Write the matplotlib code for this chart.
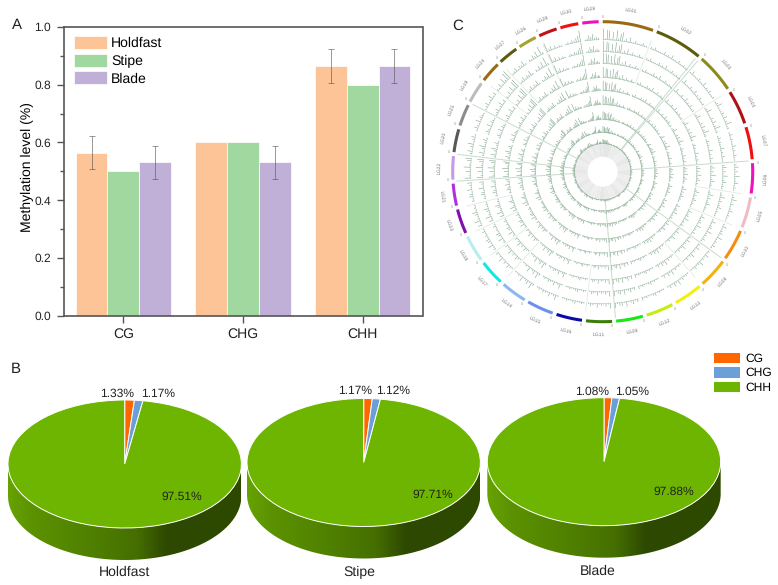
import matplotlib
matplotlib.use('Agg')
import matplotlib.pyplot as plt
from matplotlib.colors import LinearSegmentedColormap
from matplotlib.patches import PathPatch
from matplotlib.path import Path
import numpy as np

W, H = 778, 585

plt.rcParams['font.family'] = ['Liberation Sans', 'DejaVu Sans']
plt.rcParams['font.size'] = 9.8
plt.rcParams['text.hinting'] = 'none'
plt.rcParams['text.hinting_factor'] = 1

# panel A
contexts = ['CG', 'CHG', 'CHH']
tissues = ['Holdfast', 'Stipe', 'Blade']
holdfast = [0.565, 0.600, 0.865]
stipe = [0.500, 0.600, 0.798]
blade = [0.531, 0.531, 0.865]
holdfast_err = [0.058, 0, 0.058]
stipe_err = [0, 0, 0]
blade_err = [0.058, 0.058, 0.058]
bar_colors = ['#fdc597', '#a0d8a0', '#c0b0d8']

# panel B
pie_names = ['Holdfast', 'Stipe', 'Blade']
pie_holdfast = [1.33, 1.17, 97.51]
pie_stipe = [1.17, 1.12, 97.71]
pie_blade = [1.08, 1.05, 97.88]
pie_colors = ['#ff6600', '#6a9fd8', '#6db500']

# panel C, clockwise from the top
lg_names = ['LG01', 'LG02', 'LG03', 'LG04', 'LG07', 'LG06', 'LG05', 'LG10', 'LG08', 'LG13',
            'LG12', 'LG09', 'LG11', 'LG16', 'LG15', 'LG14', 'LG17', 'LG18', 'LG23', 'LG21',
            'LG22', 'LG20', 'LG25', 'LG19', 'LG24', 'LG27', 'LG26', 'LG28', 'LG30', 'LG29']
lg_sizes = [19.6, 18.6, 15.2, 13.2, 12.5, 11.6, 11.8, 12.0, 11.5, 11.0,
            10.6, 10.4, 10.0, 10.0, 10.3, 10.0, 9.7, 10.3, 9.5, 8.5,
            9.0, 8.9, 8.4, 8.2, 8.0, 7.7, 7.1, 7.1, 7.0, 6.3]
lg_colors = ['#9a6a10', '#5c5c0c', '#8c8c1c', '#b01018', '#f01010', '#f010c0', '#eebcc4', '#f58c14',
             '#f2b40c', '#f2f010', '#c4ee10', '#18e818', '#3c7c0c', '#0a0aa8', '#6c90ec', '#8cb8ee',
             '#10e8e8', '#b8ecf0', '#8010b0', '#b030e0', '#c39be8', '#585858', '#8c8c8c', '#bcbcbc',
             '#9a6a10', '#5c5c0c', '#a4a42c', '#c01018', '#f01010', '#f010c0']
lg_greys = ['#e6e6e6', '#ececec', '#efefef', '#e9e9e9', '#eeeeee', '#e8e8e8', '#eeeeee', '#eaeaea',
            '#efefef', '#e8e8e8', '#eeeeee', '#ebebeb', '#e7e7e7', '#ececec', '#efefef', '#e9e9e9',
            '#ededed', '#e8e8e8', '#eeeeee', '#ebebeb', '#e7e7e7', '#ebebeb', '#eeeeee', '#e8e8e8',
            '#ededed', '#e9e9e9', '#eeeeee', '#e8e8e8', '#ececec', '#e7e7e7']
lg_spikes = [
    [11, 1, 10, 9, 1, 8, 1, 10, 2, 7, 9, 1, 3, 1, 5, 1, 1, 3, 1, 1, 1, 3, 1, 1],
    [2, 1, 3, 1, 1, 1, 1, 3, 1, 2, 1, 4, 1, 1, 1, 3, 1, 1, 2, 1, 1],
    [1, 4, 1, 1, 1, 3, 1, 1, 4, 1, 2, 1, 3, 1, 1, 2],
    [1, 2, 5, 1, 1, 1, 3, 1, 4, 1, 2, 6, 1, 2],
    [1, 3, 1, 2, 1, 1, 4, 1, 2, 1, 3, 1, 1],
    [2, 4, 1, 3, 1, 5, 1, 2, 4, 1, 2, 1],
    [1, 2, 5, 1, 3, 1, 2, 4, 1, 2, 1, 1],
    [1, 4, 1, 2, 3, 1, 5, 1, 2, 1, 3, 1],
    [2, 1, 4, 1, 2, 1, 5, 2, 1, 3, 1, 1],
    [1, 2, 1, 3, 1, 5, 2, 4, 1, 3, 1],
    [1, 1, 2, 1, 3, 2, 1, 1, 2, 1, 3],
    [3, 1, 4, 2, 1, 5, 1, 4, 3, 1, 5],
    [5, 1, 3, 1, 2, 1, 4, 1, 2, 3, 1],
    [1, 2, 1, 1, 3, 2, 1, 1, 2, 1, 1],
    [1, 5, 2, 1, 4, 1, 2, 3, 1, 2, 1],
    [2, 6, 1, 4, 2, 1, 5, 1, 2, 1, 1],
    [1, 2, 4, 1, 3, 1, 5, 2, 1, 3],
    [2, 1, 5, 1, 3, 4, 1, 2, 1, 3, 1],
    [4, 1, 6, 2, 1, 3, 5, 1, 2, 1],
    [2, 1, 4, 3, 1, 5, 1, 2, 4],
    [6, 2, 1, 5, 1, 7, 2, 1, 4, 6],
    [2, 5, 1, 3, 6, 1, 2, 4, 1],
    [1, 4, 2, 1, 5, 1, 3, 2, 1],
    [1, 2, 4, 1, 2, 5, 1, 3],
    [2, 1, 4, 1, 6, 2, 8, 9],
    [1, 2, 4, 1, 3, 2, 5, 1],
    [2, 1, 4, 2, 6, 1, 9, 2],
    [9, 2, 4, 1, 3, 1, 2, 1],
    [1, 2, 1, 3, 2, 4, 6, 11],
    [1, 2, 5, 3, 6, 2, 3, 2],
]
track_base = [28, 39, 52, 67, 81, 94, 108, 120, 132]
track_gain = [0.4, 0.6, 0.75, 0.85, 0.9, 0.95, 1.0, 1.0, 1.0]
long_links = [40.6, 39.3, 85.8, 126.0, 175.0, 266.3, 276.8, 297.4]
short_links = [20.3, 57.4, 99.0, 112.4, 138.8, 187.0, 222.2, 233.3, 244.9, 255.8, 307.4, 316.8, 334.8]


def px_rect(left, top, width, height):
    return [left / W, 1 - (top + height) / H, width / W, height / H]


fig = plt.figure(figsize=(W / 100, H / 100), dpi=100)

# A: bars
ax = fig.add_axes(px_rect(63.5, 27, 359, 288.7))
x = np.arange(len(contexts))
bw = 0.265
series = [holdfast, stipe, blade]
errors = [holdfast_err, stipe_err, blade_err]
for i, (vals, errs) in enumerate(zip(series, errors)):
    pos = x + (i - 1) * bw
    ax.bar(pos, vals, bw, color=bar_colors[i], edgecolor='white', linewidth=0.5, label=tissues[i])
    for p, v, e in zip(pos, vals, errs):
        if e > 0:
            ax.errorbar(p, v, yerr=e, color='#555555', elinewidth=0.6, capsize=2.2,
                        capthick=0.6, alpha=0.7)
ax.set_xlim(-0.5, 2.5)
ax.set_ylim(0, 1)
ax.set_xticks(x)
ax.set_xticklabels(contexts)
ax.set_yticks(np.arange(0, 1.01, 0.2))
ax.set_yticks(np.arange(0.1, 1, 0.2), minor=True)
ax.set_ylabel('Methylation level (%)', labelpad=0.5, y=0.515)
ax.tick_params(axis='x', which='major', length=5, width=1, color='#555555', labelcolor='#222222', pad=3.5)
ax.tick_params(axis='y', which='major', length=5, width=1, color='#555555', labelcolor='#222222',
               pad=4, labelsize=8.4)
ax.tick_params(axis='y', which='minor', length=3, width=1, color='#555555')
for s in ax.spines.values():
    s.set_color('#555555')
    s.set_linewidth(1.2)
ax.legend(loc='upper left', bbox_to_anchor=(10.5 / 359, 1 - 9 / 288.7), frameon=False,
          borderaxespad=0, borderpad=0, handlelength=2.39, handleheight=1.1,
          labelspacing=0.26, handletextpad=0.33, fontsize=9.8)

# B: pies with a shaded side wall
side_cmap = LinearSegmentedColormap.from_list('side', [
    (0.0, '#66a300'), (0.1, '#5c9200'), (0.35, '#4f8000'), (0.55, '#456f00'),
    (0.68, '#2d4800'), (1.0, '#2e4a00')])
pie_data = [pie_holdfast, pie_stipe, pie_blade]
pie_cx = [124.7, 363.7, 604.0]
pie_cy = [464.0, 462.5, 461.7]
rx, ry, depth = 116.7, 64.0, 0.5
wedges = None
for name, vals, cx, cy in zip(pie_names, pie_data, pie_cx, pie_cy):
    pax = fig.add_axes(px_rect(cx - rx, cy - ry, 2 * rx, (2 + depth) * ry))
    t = np.linspace(np.pi, 2 * np.pi, 120)
    verts = np.r_[np.c_[np.cos(t), np.sin(t)], np.c_[np.cos(t[::-1]), np.sin(t[::-1]) - depth]]
    wall = PathPatch(Path(verts), transform=pax.transData, facecolor='none', edgecolor='none')
    pax.add_patch(wall)
    img = pax.imshow(np.linspace(0, 1, 256)[None, :], cmap=side_cmap, aspect='auto',
                     extent=(-1, 1, -1 - depth, 0), zorder=1)
    img.set_clip_path(wall)
    wedges, _ = pax.pie(vals, colors=pie_colors, startangle=90, counterclock=False, radius=1,
                        wedgeprops={'edgecolor': 'white', 'linewidth': 0.7, 'zorder': 2})
    pax.set_aspect('auto')
    pax.set_xlim(-1, 1)
    pax.set_ylim(-1 - depth, 1)
    pax.axis('off')


def px_text(xp, yp, s, **kw):
    kw.setdefault('ha', 'center')
    kw.setdefault('va', 'center')
    kw.setdefault('color', '#222222')
    fig.text(xp / W, 1 - yp / H, s, **kw)


label_x = [[117, 158, 182], [355, 393, 433], [592, 632, 673.3]]
label_y = [[394, 394, 497], [390.5, 390.5, 495], [391.7, 391.7, 492]]
name_x = [125, 359, 598]
name_y = [572.7, 572, 571]
for vals, xs, ys, name, nx, ny in zip(pie_data, label_x, label_y, pie_names, name_x, name_y):
    for v, xp, yp in zip(vals, xs, ys):
        px_text(xp, yp, f'{v:.2f}%', fontsize=8.9)
    px_text(nx, ny, name, fontsize=9.9)

fig.legend(wedges, contexts, loc='upper left', bbox_to_anchor=(713.3 / W, 1 - 351.7 / H),
           frameon=False, borderaxespad=0, borderpad=0, handlelength=2.19, handleheight=1.07,
           labelspacing=0.18, handletextpad=0.4, fontsize=8.8)

# C: circos
cax = fig.add_axes(px_rect(602.7 - 150, 171.7 - 150, 300, 300), projection='polar')
cax.set_theta_zero_location('N')
cax.set_theta_direction(-1)
sizes = np.array(lg_sizes)
gap = (360 - sizes.sum()) / len(sizes)
starts = np.r_[0, np.cumsum(sizes + gap)[:-1]]
thetas = np.deg2rad
spike_color = '#7fa58a'

for deg in long_links:
    cax.plot([thetas(deg)] * 2, [28, 146], color='#c8dccb', lw=0.7, zorder=1)
for deg in short_links:
    cax.plot([thetas(deg)] * 2, [94, 140], color='#dbe8dd', lw=0.5, zorder=1)

for base, gain in zip(track_base, track_gain):
    for s0, size, hts in zip(starts, sizes, lg_spikes):
        th = thetas(np.linspace(s0 + 0.3, s0 + size - 0.3, len(hts)))
        cax.vlines(th, base, base + np.array(hts) * gain, color=spike_color,
                   linewidth=0.4, zorder=2)
        arc = thetas(np.linspace(s0, s0 + size, 20))
        cax.plot(arc, [base] * 20, color='#7ea588', lw=0.35, alpha=0.7, zorder=2)

for s0, size, col, grey, name in zip(starts, sizes, lg_colors, lg_greys, lg_names):
    mid = s0 + size / 2
    cax.bar(thetas(mid), 13, width=thetas(size + gap), bottom=15, color=grey, linewidth=0, zorder=1)
    arc = thetas(np.linspace(s0, s0 + size, 30))
    cax.plot(arc, [150] * 30, color=col, lw=2.2, solid_capstyle='butt', zorder=3, clip_on=False)
    rot = -mid if (mid < 90 or mid > 270) else 180 - mid
    cax.text(thetas(mid), 163, name, fontsize=3.9, color='#777777', rotation=rot,
             rotation_mode='anchor', ha='center', va='center', clip_on=False)
    cax.text(thetas(s0), 155, '0', fontsize=2.8, color='#999999', ha='center', va='center',
             clip_on=False)
cax.set_rlim(0, 150)
cax.axis('off')

px_text(17, 25, 'A', fontsize=11)
px_text(16, 369, 'B', fontsize=11)
px_text(458, 26, 'C', fontsize=11)

fig.savefig('out.png', dpi=100)
